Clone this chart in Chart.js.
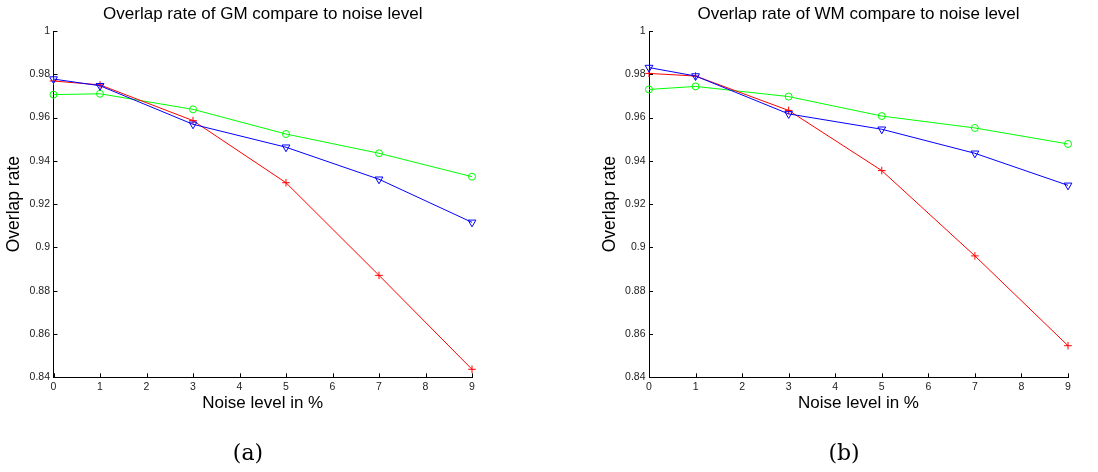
<!DOCTYPE html>
<html>
<head>
<meta charset="utf-8">
<script src="https://cdn.jsdelivr.net/npm/chart.js@4.4.0/dist/chart.umd.min.js"></script>
<style>
  body { margin: 0; background: #fff; }
  #wrap { position: relative; width: 1098px; height: 472px; overflow: hidden; }
  .panel { position: absolute; top: 0; width: 549px; height: 472px; }
  .caption { position: absolute; top: 440px; width: 60px; text-align: center;
    font-family: 'DejaVu Serif', serif; font-size: 22px; color: #000; }
</style>
</head>
<body>
<div id="wrap">
  <div class="panel" style="left:0"><canvas id="gm"></canvas></div>
  <div class="panel" style="left:549px"><canvas id="wm"></canvas></div>
  <div class="caption" style="left:218px">(a)</div>
  <div class="caption" style="left:814px">(b)</div>
</div>
<script>
// noise levels (%)
const noiseLevels = [0, 1, 3, 5, 7, 9];
const xTicks = [0, 1, 2, 3, 4, 5, 6, 7, 8, 9];
const yTicks = [0.84, 0.86, 0.88, 0.9, 0.92, 0.94, 0.96, 0.98, 1];

// GM panel
const gmRed = [0.9769, 0.9751, 0.9586, 0.9299, 0.8871, 0.8437];
const gmBlue = [0.9778, 0.9747, 0.9569, 0.9463, 0.9315, 0.9116];
const gmGreen = [0.9706, 0.9710, 0.9638, 0.9524, 0.9435, 0.9327];

// WM panel
const wmRed = [0.9804, 0.9792, 0.9633, 0.9355, 0.8961, 0.8546];
const wmBlue = [0.9831, 0.9792, 0.9617, 0.9546, 0.9435, 0.9287];
const wmGreen = [0.9730, 0.9744, 0.9697, 0.9607, 0.9552, 0.9478];

const FONT = "'Liberation Sans', Arial, sans-serif";

// small inward tick marks, like matlab
const inwardTicks = {
  id: 'inwardTicks',
  afterDatasetsDraw(chart) {
    const { ctx, chartArea, scales } = chart;
    ctx.save();
    ctx.strokeStyle = '#000';
    ctx.lineWidth = 1;
    ctx.beginPath();
    scales.x.ticks.forEach(t => {
      const px = Math.round(scales.x.getPixelForValue(t.value)) + 0.5;
      ctx.moveTo(px, chartArea.bottom);
      ctx.lineTo(px, chartArea.bottom - 4);
    });
    scales.y.ticks.forEach(t => {
      const py = Math.round(scales.y.getPixelForValue(t.value)) + 0.5;
      ctx.moveTo(chartArea.left, py);
      ctx.lineTo(chartArea.left + 4, py);
    });
    ctx.stroke();
    ctx.restore();
  }
};

function pts(ys) {
  return noiseLevels.map((x, i) => ({ x: x, y: ys[i] }));
}

function makeChart(id, title, red, blue, green, padLeft, padRight) {
  const common = { borderWidth: 1, pointRadius: 3.5, pointBorderWidth: 1,
    pointBackgroundColor: 'rgba(0,0,0,0)', tension: 0, clip: false };
  new Chart(document.getElementById(id), {
    type: 'line',
    data: {
      datasets: [
        Object.assign({}, common, { data: pts(blue), borderColor: '#0000ff', pointBorderColor: '#0000ff',
          pointStyle: 'triangle', pointRotation: 180, pointRadius: 4.5 }),
        Object.assign({}, common, { data: pts(red), borderColor: '#ff0000', pointBorderColor: '#ff0000',
          pointStyle: 'cross', pointRadius: 3.8 }),
        Object.assign({}, common, { data: pts(green), borderColor: '#00ff00', pointBorderColor: '#00ff00',
          pointStyle: 'circle' })
      ]
    },
    options: {
      responsive: true,
      maintainAspectRatio: false,
      animation: false,
      events: [],
      layout: { padding: { left: padLeft, right: padRight, top: 0, bottom: 58.7 } },
      plugins: {
        legend: { display: false },
        tooltip: { enabled: false },
        title: {
          display: true, text: title, color: '#000', fullSize: false,
          font: { family: FONT, size: 17, weight: 'normal' },
          padding: { top: 4, bottom: 6.6 }
        }
      },
      scales: {
        x: {
          type: 'linear', min: 0, max: 9,
          afterBuildTicks: s => { s.ticks = xTicks.map(v => ({ value: v })); },
          afterFit: s => { s.height = 36; },
          grid: { drawOnChartArea: false, drawTicks: false },
          border: { color: '#000', width: 1 },
          ticks: { color: '#222', padding: 4, font: { family: FONT, size: 10.5 },
            callback: v => String(v) },
          title: { display: true, text: 'Noise level in %', color: '#000',
            padding: { top: 0, bottom: 0 }, font: { family: FONT, size: 17 } }
        },
        y: {
          type: 'linear', min: 0.84, max: 1,
          afterBuildTicks: s => { s.ticks = yTicks.map(v => ({ value: v })); },
          afterFit: s => { s.width = 53.5; },
          grid: { drawOnChartArea: false, drawTicks: false },
          border: { color: '#000', width: 1 },
          ticks: { color: '#222', padding: 3.5, font: { family: FONT, size: 10.5 },
            callback: v => String(+v.toFixed(2)) },
          title: { display: true, text: 'Overlap rate', color: '#000',
            padding: { top: 4, bottom: 0 }, font: { family: FONT, size: 17.5 } }
        }
      }
    },
    plugins: [inwardTicks]
  });
}

makeChart('gm', 'Overlap rate of GM compare to noise level', gmRed, gmBlue, gmGreen, 0, 77);
makeChart('wm', 'Overlap rate of WM compare to noise level', wmRed, wmBlue, wmGreen, 46.5, 30);
</script>
</body>
</html>
